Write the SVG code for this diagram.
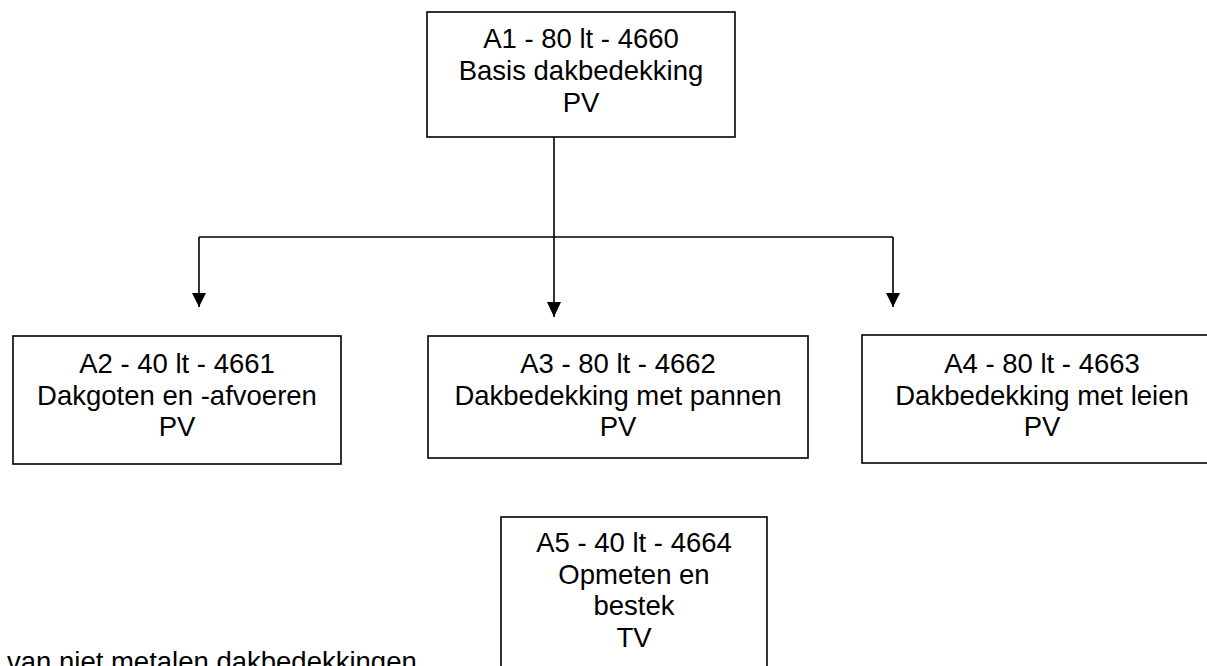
<svg xmlns="http://www.w3.org/2000/svg" width="1207" height="666" viewBox="0 0 1207 666">
<style>
.box{fill:#fff;stroke:#000;stroke-width:1.6}
.t{font-family:"Liberation Sans",Arial,sans-serif;font-size:27.5px;fill:#000;text-anchor:middle}
.ln{fill:none;stroke:#000;stroke-width:1.6}
</style>
<defs>
<marker id="ah" markerUnits="userSpaceOnUse" markerWidth="14" markerHeight="15" refX="7" refY="15" orient="auto-start-reverse" viewBox="0 0 14 15">
<path d="M0,0 L14,0 L7,15 Z" fill="#000"/>
</marker>
</defs>
<rect width="1207" height="666" fill="#fff"/>
<g id="connectors">
<path class="ln" d="M554,137 V237"/>
<path class="ln" d="M199,237 H893"/>
<line class="ln" x1="199" y1="237" x2="199" y2="307"/>
<line class="ln" x1="554" y1="237" x2="554" y2="317"/>
<line class="ln" x1="893" y1="237" x2="893" y2="307"/>
<path d="M192,293 L206,293 L199,307 Z" fill="#000"/>
<path d="M547,302 L561,302 L554,317 Z" fill="#000"/>
<path d="M886,293 L900,293 L893,307 Z" fill="#000"/>
</g>
<g id="A1">
<rect class="box" x="427" y="12" width="308" height="125"/>
<text class="t" x="581" y="48">A1 - 80 lt - 4660</text>
<text class="t" x="581" y="80">Basis dakbedekking</text>
<text class="t" x="581" y="112">PV</text>
</g>
<g id="A2">
<rect class="box" x="13" y="336" width="328" height="128"/>
<text class="t" x="177" y="373">A2 - 40 lt - 4661</text>
<text class="t" x="177" y="405">Dakgoten en -afvoeren</text>
<text class="t" x="177" y="436">PV</text>
</g>
<g id="A3">
<rect class="box" x="428" y="336" width="380" height="122"/>
<text class="t" x="618" y="373">A3 - 80 lt - 4662</text>
<text class="t" x="618" y="405">Dakbedekking met pannen</text>
<text class="t" x="618" y="436">PV</text>
</g>
<g id="A4">
<rect class="box" x="862" y="335" width="360" height="128"/>
<text class="t" x="1042" y="373">A4 - 80 lt - 4663</text>
<text class="t" x="1042" y="405">Dakbedekking met leien</text>
<text class="t" x="1042" y="436">PV</text>
</g>
<g id="A5">
<rect class="box" x="501" y="517" width="266" height="170"/>
<text class="t" x="634" y="552">A5 - 40 lt - 4664</text>
<text class="t" x="634" y="584">Opmeten en</text>
<text class="t" x="634" y="615">bestek</text>
<text class="t" x="634" y="647">TV</text>
</g>
<g id="footer">
<text class="t" x="7" y="671" style="text-anchor:start">van niet metalen dakbedekkingen</text>
</g>
</svg>
